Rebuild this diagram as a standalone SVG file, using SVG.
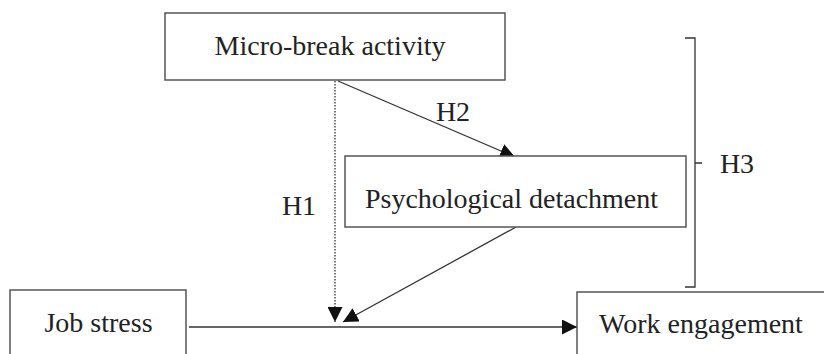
<svg xmlns="http://www.w3.org/2000/svg" width="824" height="354" viewBox="0 0 824 354">
<style>
.box{fill:#fff;stroke:#555;stroke-width:1.5}
.t{font-family:"Liberation Serif","Times New Roman",serif;font-size:28px;fill:#222}
.ln{stroke:#333;stroke-width:1.3;fill:none}
.dot{stroke:#333;stroke-width:1.3;stroke-dasharray:1.5 1.5;fill:none}
</style>
<defs>
<marker id="ah" viewBox="0 0 10 10" refX="10" refY="5" markerWidth="15" markerHeight="15" markerUnits="userSpaceOnUse" orient="auto">
<path d="M0,0 L10,5 L0,10 Z" fill="#111"/>
</marker>
</defs>
<rect width="824" height="354" fill="#fff"/>
<g id="connectors">
<line class="ln" x1="338" y1="81" x2="515" y2="157" marker-end="url(#ah)"/>
<line class="dot" x1="335" y1="81" x2="335" y2="322" marker-end="url(#ah)"/>
<line class="ln" x1="516" y1="227" x2="343" y2="322" marker-end="url(#ah)"/>
<line class="ln" x1="189" y1="327" x2="577" y2="327" marker-end="url(#ah)"/>
<path class="ln" d="M685,38 H695 V287 H685 M695,163 H702"/>
</g>
<g id="micro-break">
<rect class="box" x="165" y="13" width="340" height="67"/>
<text class="t" x="330" y="55" text-anchor="middle">Micro-break activity</text>
</g>
<g id="detachment">
<rect class="box" x="345" y="156" width="341" height="71"/>
<text class="t" x="511.5" y="208" text-anchor="middle">Psychological detachment</text>
</g>
<g id="job-stress">
<rect class="box" x="10" y="290" width="176" height="80"/>
<text class="t" x="98.5" y="332" text-anchor="middle">Job stress</text>
</g>
<g id="work-engagement">
<rect class="box" x="577" y="292" width="260" height="80"/>
<text class="t" x="701" y="333" text-anchor="middle">Work engagement</text>
</g>
<g id="labels">
<text class="t" x="453" y="121" text-anchor="middle">H2</text>
<text class="t" x="299" y="215" text-anchor="middle">H1</text>
<text class="t" x="737" y="173" text-anchor="middle">H3</text>
</g>
</svg>
